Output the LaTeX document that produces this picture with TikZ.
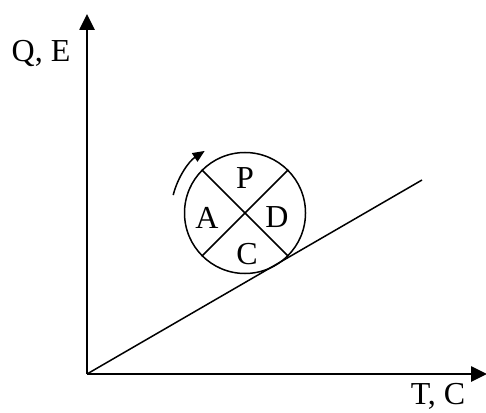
\documentclass[tikz,border=0pt]{standalone}
\usepackage{fontspec}
\setmainfont{Liberation Serif}
\usetikzlibrary{arrows.meta}
\begin{document}
\begin{tikzpicture}[x=1pt,y=1pt,
        axis/.style={line width=2.6pt,-{Triangle[length=16pt,width=15pt]}},
        thinline/.style={line width=1.5pt},
        lbl/.style={font=\fontsize{32}{36}\selectfont,inner sep=0pt}]
        \useasboundingbox (0,0) rectangle (486,412);
        \coordinate (O) at (87,38);
        \coordinate (ytop) at (87,398);
        \coordinate (xend) at (487,38);
        \coordinate (lineend) at (422,232);
        \draw[axis] (O) -- (ytop);
        \draw[axis] (O) -- (xend);
        \node[lbl] (ylabel) at (41,358) {Q, E};
        \node[lbl] (xlabel) at (438,16) {T, C};
        \draw[thinline] (O) -- (lineend);
        
        \node[draw,circle,thinline,minimum size=121pt,inner sep=0pt] (cycle) at (245,199) {};
        \draw[thinline] (cycle.45) -- (cycle.225);
        \draw[thinline] (cycle.135) -- (cycle.315);
        \node[lbl] (p) at (245,234) {P};
        \node[lbl] (a) at (207,194) {A};
        \node[lbl] (d) at (277,195) {D};
        \node[lbl] (c) at (247,158) {C};
        \draw[thinline,-{Triangle[length=12pt,width=10pt]}] ([shift={(166:74pt)}]cycle.center) arc[start angle=166,end angle=123,radius=74pt];
    \end{tikzpicture}
\end{document}
